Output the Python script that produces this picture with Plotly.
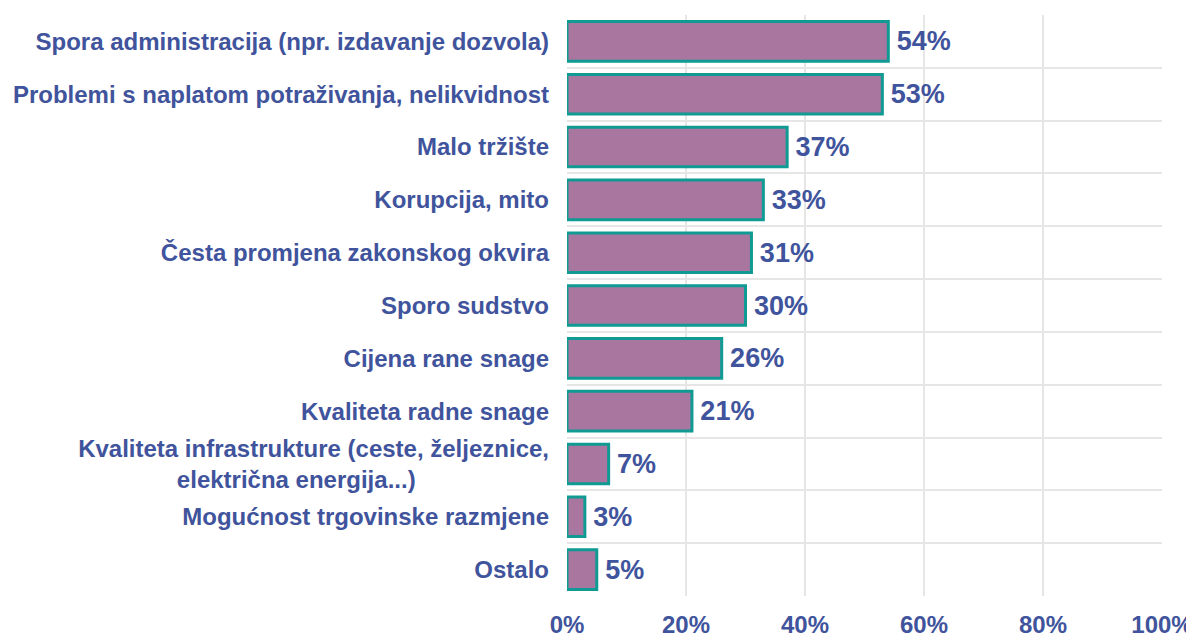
import plotly.graph_objects as go

categories = [
    "Spora administracija (npr. izdavanje dozvola)",
    "Problemi s naplatom potraživanja, nelikvidnost",
    "Malo tržište",
    "Korupcija, mito",
    "Česta promjena zakonskog okvira",
    "Sporo sudstvo",
    "Cijena rane snage",
    "Kvaliteta radne snage",
    "Kvaliteta infrastrukture (ceste, željeznice,<br>električna energija...)" + "\u00a0" * 20,
    "Mogućnost trgovinske razmjene",
    "Ostalo",
]
values = [54, 53, 37, 33, 31, 30, 26, 21, 7, 3, 5]
tick_vals = [0, 20, 40, 60, 80, 100]
tick_text = ["0%", "20%", "40%", "60%", "80%", "100%"]

TEXT = "#3F549C"
FONT = "Liberation Sans, Arial, sans-serif"

fig = go.Figure(go.Bar(
    y=categories,
    x=values,
    orientation="h",
    marker=dict(color="#A8769F", line=dict(color="#0F9A94", width=3)),
    text=[f"\u2009{v}%" for v in values],
    textposition="outside",
    textfont=dict(family=FONT, size=27, color=TEXT, weight="bold"),
    cliponaxis=False,
))

fig.update_layout(
    width=1186, height=632,
    margin=dict(l=559, r=32, t=7, b=44),
    plot_bgcolor="white", paper_bgcolor="white",
    bargap=0.25,
    showlegend=False,
    font=dict(family=FONT, color=TEXT),
)
fig.update_xaxes(
    range=[0, 100], tickvals=tick_vals, ticktext=tick_text,
    showgrid=True, gridcolor="#E6E6E6", gridwidth=1.5,
    zeroline=False, showline=False, automargin=False,
    tickfont=dict(family=FONT, size=24, color=TEXT, weight="bold"),
    ticklabelstandoff=12,
)
fig.update_yaxes(
    autorange="reversed", tickson="boundaries",
    showgrid=True, gridcolor="#E6E6E6", gridwidth=1.5,
    showline=False, ticks="", automargin=False,
    tickfont=dict(family=FONT, size=24, color=TEXT, weight="bold"),
    ticklabelstandoff=17,
)

fig.write_html("out.html")
